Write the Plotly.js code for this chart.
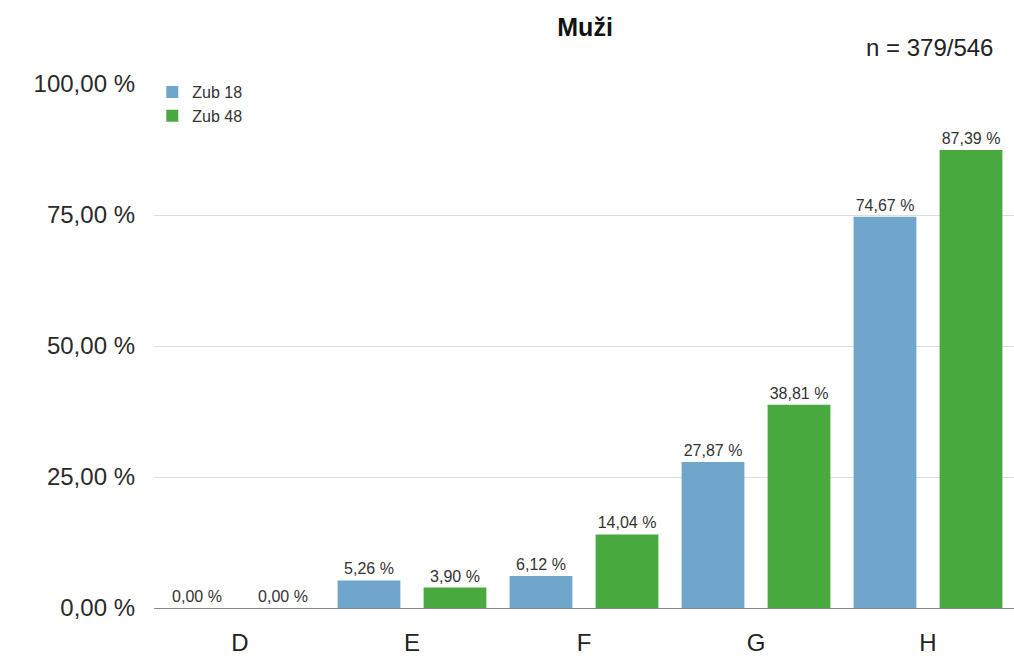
<!DOCTYPE html>
<html>
<head>
<meta charset="utf-8">
<script src="https://cdn.plot.ly/plotly-3.0.1.min.js"></script>
<style>html,body{margin:0;padding:0;background:#fff;}#chart{width:1014px;height:659px;}</style>
</head>
<body>
<div id="chart"></div>
<script>
const categories = ["D", "E", "F", "G", "H"];
const zub18 = [0.00, 5.26, 6.12, 27.87, 74.67];
const zub48 = [0.00, 3.90, 14.04, 38.81, 87.39];
const seriesNames = ["Zub 18", "Zub 48"];
const yTickVals = [0, 25, 50, 75, 100];
const yTickText = ["0,00 %", "25,00 %", "50,00 %", "75,00 %", "100,00 %"];

const fmt = v => v.toFixed(2).replace('.', ',') + ' %';
const FONT = 'Liberation Sans, Arial, Helvetica, sans-serif';

function trace(name, vals, color) {
  return {
    type: 'bar', name: name, x: categories, y: vals,
    marker: {color: color},
    text: vals.map(fmt), textposition: 'outside', cliponaxis: false,
    textfont: {family: FONT, size: 16, color: '#333'},
    hoverinfo: 'skip'
  };
}

const data = [
  trace(seriesNames[0], zub18, '#70a6cc'),
  trace(seriesNames[1], zub48, '#47a93e')
];

const layout = {
  width: 1014, height: 659,
  margin: {l: 154, r: 0, t: 84, b: 51},
  paper_bgcolor: '#fff', plot_bgcolor: '#fff',
  font: {family: FONT, color: '#222'},
  title: {text: '<b>Muži</b>', x: 0.577, xanchor: 'center', y: 0.958, yanchor: 'middle', font: {family: FONT, size: 25, color: '#111'}},
  barmode: 'group', bargap: 0.0, bargroupgap: 0.27,
  showlegend: true,
  legend: {x: -0.002, y: 1.017, xanchor: 'left', yanchor: 'top', font: {family: FONT, size: 16, color: '#333'}, bgcolor: 'rgba(0,0,0,0)', itemwidth: 30, tracegroupgap: 0},
  xaxis: {
    type: 'category', range: [-0.5, 4.5],
    showline: false, ticks: '', showgrid: false,
    ticklabelstandoff: 18,
    tickfont: {family: FONT, size: 24, color: '#222'}
  },
  yaxis: {
    range: [0, 100], tickvals: yTickVals, ticktext: yTickText,
    showgrid: true, gridcolor: '#dedede', gridwidth: 1,
    zeroline: true, zerolinecolor: '#8a8a8a', zerolinewidth: 1,
    showline: false, ticks: '', ticklen: 0,
    ticklabelstandoff: 18,
    tickfont: {family: FONT, size: 24, color: '#2a2a2a'}
  },
  annotations: [{
    text: 'n = 379/546', xref: 'paper', yref: 'paper', x: 0.978, y: 1.07,
    xanchor: 'right', yanchor: 'middle', showarrow: false,
    font: {family: FONT, size: 24, color: '#222'}
  }]
};

Plotly.newPlot('chart', data, layout, {displayModeBar: false, staticPlot: true});
</script>
</body>
</html>
